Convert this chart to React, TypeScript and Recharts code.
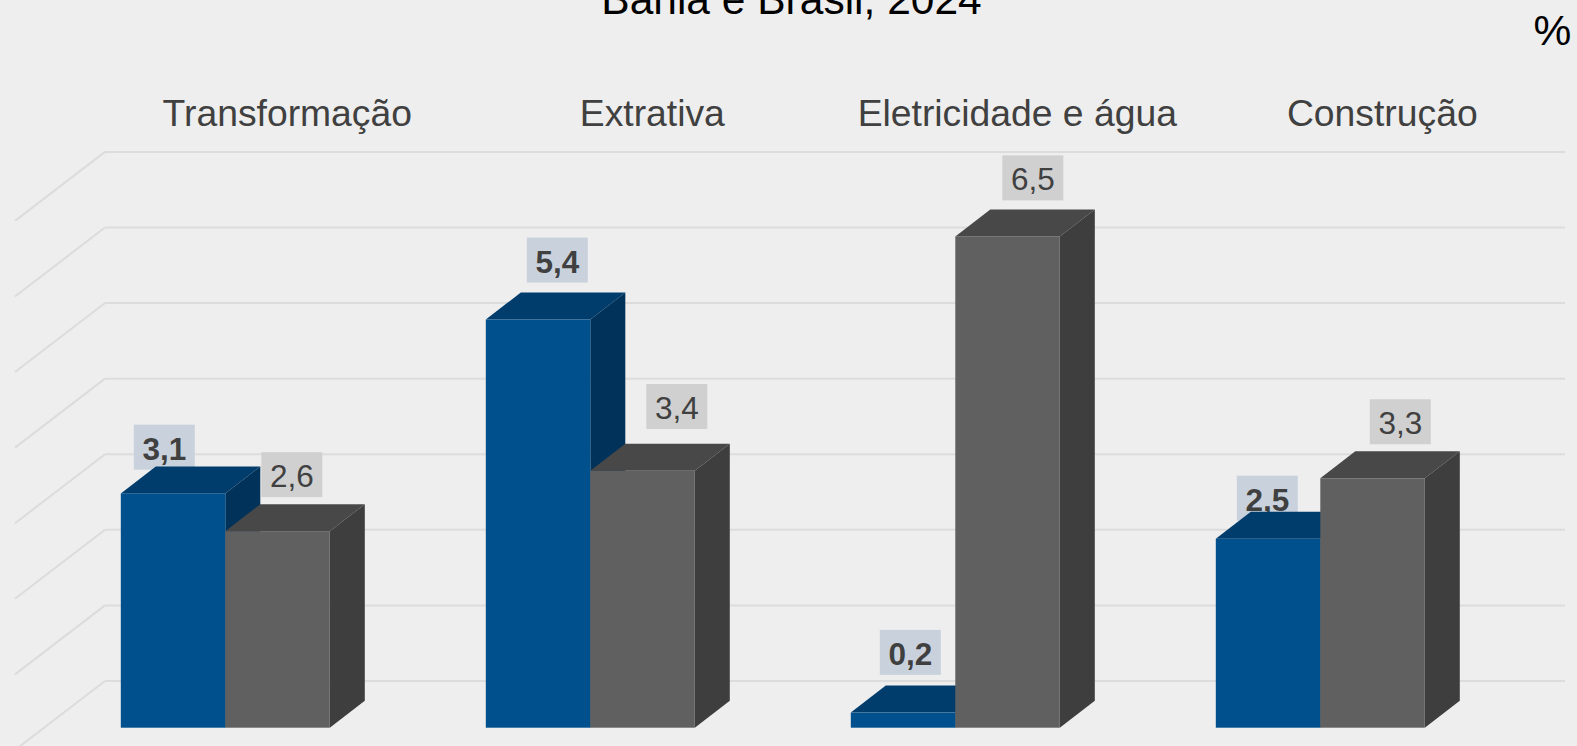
import { BarChart, Bar, XAxis, YAxis, CartesianGrid } from "recharts";

const categories = ["Transformação", "Extrativa", "Eletricidade e água", "Construção"];
const bahia = [3.1, 5.4, 0.2, 2.5];
const brasil = [2.6, 3.4, 6.5, 3.3];
const gridTicks = [0, 1, 2, 3, 4, 5, 6, 7];

const chartData = categories.map((name, i) => ({ name, bahia: bahia[i], brasil: brasil[i] }));

// hand placed label boxes in the original: [px right of bar's left edge, px above bar top]
const bahiaNudge = [[13, 23.7], [41, 37], [29, 37.7], [21, 18]];
const brasilNudge = [[36, 34], [56, 41.7], [47, 36], [49.5, 34]];

const DEPTH_X = 35;
const DEPTH_Y = 27;
const WALL_LIFT = 46.7;
const PLOT_TOP = 123;
const FONT = "'Liberation Sans', Arial, sans-serif";

function makeBarShape(colors: any, nudge: number[][], boxFill: string, bold: boolean) {
  return function BarShape(props: any) {
    const { x, y, width, height, index, value } = props;
    const [dx, dy] = nudge[index];
    const boxBottom = y - dy;
    return (
      <g>
        <rect x={x + dx} y={boxBottom - 45} width={61} height={45} fill={boxFill} />
        <text
          x={x + dx + 30.5}
          y={boxBottom - 10}
          textAnchor="middle"
          fontFamily={FONT}
          fontSize={31.5}
          fontWeight={bold ? 700 : 400}
          fill="#404040"
        >
          {String(value).replace(".", ",")}
        </text>
        <polygon
          points={`${x},${y} ${x + DEPTH_X},${y - DEPTH_Y} ${x + width + DEPTH_X},${y - DEPTH_Y} ${x + width},${y}`}
          fill={colors.top}
        />
        <polygon
          points={`${x + width},${y} ${x + width + DEPTH_X},${y - DEPTH_Y} ${x + width + DEPTH_X},${y + height - DEPTH_Y} ${x + width},${y + height}`}
          fill={colors.side}
        />
        <rect x={x} y={y} width={width} height={height} fill={colors.front} />
      </g>
    );
  };
}

const BahiaBar = makeBarShape({ front: "#00508e", top: "#003c6c", side: "#00325a" }, bahiaNudge, "#c9d2dc", true);
const BrasilBar = makeBarShape({ front: "#606060", top: "#484848", side: "#3e3e3e" }, brasilNudge, "#d0d0d0", false);

function WallLine(props: any) {
  // the grid also hands over the top edge of the plot, the original has no line there
  if (props.y1 <= PLOT_TOP + 1) return null;
  const y = props.y1 - WALL_LIFT;
  return (
    <g stroke="#dcdcdc" strokeWidth={2} fill="none">
      <line x1={105} y1={y} x2={1565} y2={y} />
      <line x1={105} y1={y} x2={15} y2={y + 69} />
    </g>
  );
}

function CategoryTick({ x, y, payload }: any) {
  return (
    <text x={x + 62} y={y + 10.5} textAnchor="middle" fontFamily={FONT} fontSize={37.3} fill="#404040">
      {payload.value}
    </text>
  );
}

export default function App() {
  return (
    <div style={{ position: "absolute", left: 0, top: 0, width: 1577, height: 746, background: "#eeeeee", overflow: "hidden" }}>
      <BarChart
        width={1577}
        height={746}
        data={chartData}
        margin={{ top: PLOT_TOP - 30, right: 74.2, bottom: 18.3, left: 42.8 }}
        barSize={104.5}
        barGap={0}
      >
        <CartesianGrid vertical={false} horizontal={(p: any) => <WallLine {...p} />} />
        <XAxis dataKey="name" orientation="top" height={30} axisLine={false} tickLine={false} interval={0} tick={<CategoryTick />} />
        <YAxis hide domain={[0, 8]} ticks={gridTicks} />
        <Bar dataKey="bahia" isAnimationActive={false} shape={BahiaBar} />
        <Bar dataKey="brasil" isAnimationActive={false} shape={BrasilBar} />
        <text x={791.5} y={14} textAnchor="middle" fontFamily={FONT} fontSize={42.5} fill="#000000">
          Bahia e Brasil, 2024
        </text>
        <text x={1552.5} y={45} textAnchor="middle" fontFamily={FONT} fontSize={42.5} fill="#000000">
          %
        </text>
      </BarChart>
    </div>
  );
}
